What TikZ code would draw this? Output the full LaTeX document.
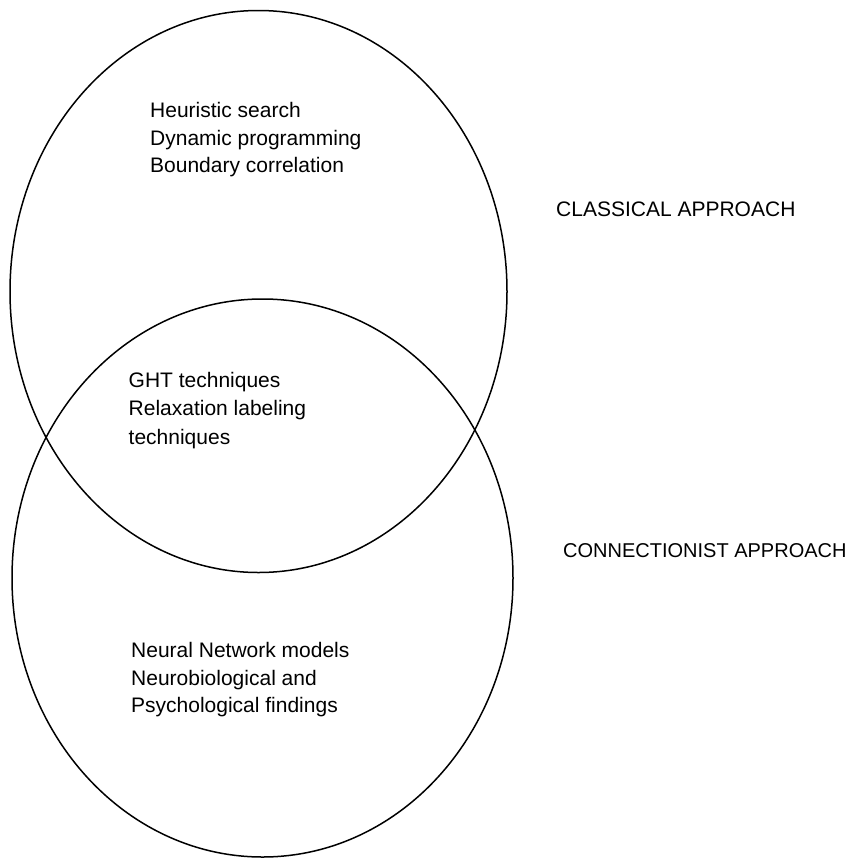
\documentclass[tikz,border=0pt]{standalone}
\usepackage{fontspec}
\setmainfont{Liberation Sans}
\usepackage{tikz}
\usetikzlibrary{shapes.geometric,positioning}

\begin{document}
\begin{tikzpicture}[x=1pt, y=-1pt,
    setring/.style={draw, ellipse, line width=1.5pt, inner sep=0pt},
    itemlist/.style={anchor=north west, align=left, inner sep=0pt,
                     font=\fontsize{21}{27.6}\selectfont},
    approach/.style={anchor=west, inner sep=0pt, font=\fontsize{21}{25}\selectfont}]
    \useasboundingbox (0,0) rectangle (847,865);

    % the two sets
    \node[setring, minimum width=497pt, minimum height=562pt] (classical) at (258.5,291.5) {};
    \node[setring, minimum width=501pt, minimum height=558pt] (connect) at (262.5,578) {};

    % set contents
    \node[itemlist] (classicitems) at (150,102) {Heuristic search\\Dynamic programming\\Boundary correlation};
    \node[itemlist, font=\fontsize{21}{28.4}\selectfont] (shareditems) at (128.5,372) {GHT techniques\\Relaxation labeling\\techniques};
    \node[itemlist] (connectitems) at (131,642) {Neural Network models\\Neurobiological and\\Psychological findings};

    % set names
    \node[approach] (classicname) at (556,209) {CLASSICAL APPROACH};
    \node[approach, font=\fontsize{20}{24}\selectfont] (connectname) at (563,551) {CONNECTIONIST APPROACH};
  \end{tikzpicture}
\end{document}
